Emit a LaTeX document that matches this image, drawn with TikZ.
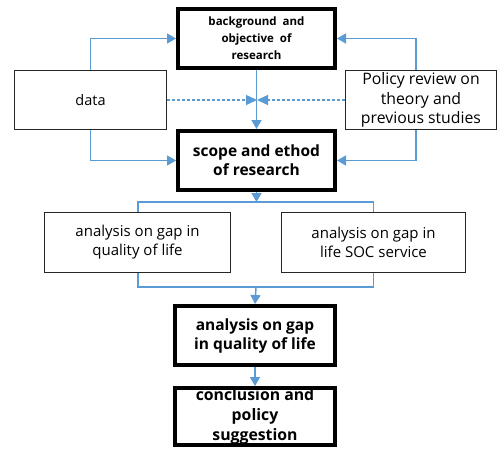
\documentclass[tikz,border=0pt]{standalone}
\usepackage{fontspec}
\setmainfont{Open Sans}
\usetikzlibrary{arrows.meta}
\definecolor{lineblue}{HTML}{5B9BD5}
\tikzset{
  thinbox/.style={draw=black!85, line width=1.5pt, fill=white, align=center, inner sep=0pt},
  thickbox/.style={draw=black, line width=4pt, fill=white, align=center, inner sep=0pt},
  conn/.style={draw=lineblue, line width=1.5pt},
  arr/.style={conn, -{Triangle[length=9pt,width=10pt]}},
  darr/.style={conn, dashed, dash pattern=on 3pt off 2pt, -{Triangle[length=11pt,width=10pt]}}
}
\begin{document}
\begin{tikzpicture}[x=1pt,y=-1pt]
\useasboundingbox (0,0) rectangle (498,448);
\node[thickbox, minimum width=157pt, minimum height=59pt,
  font=\fontsize{11.5}{17}\selectfont\bfseries] (bg) at (256.5,38.5)
  {background\ \ and\\objective\ \ of\\research};
\node[thinbox, minimum width=152pt, minimum height=59pt,
  font=\fontsize{14.5}{19}\selectfont] (data) at (90.5,100)
  {data};
\node[thinbox, minimum width=151pt, minimum height=59pt,
  font=\fontsize{15.8}{19.5}\selectfont] (pol) at (421,100)
  {Policy review on\\theory and\\previous studies};
\node[thickbox, minimum width=157pt, minimum height=59pt,
  font=\fontsize{15.5}{19}\selectfont\bfseries] (scope) at (256.5,160.5)
  {scope and ethod\\of research};
\node[thinbox, minimum width=186pt, minimum height=60pt,
  font=\fontsize{15}{19}\selectfont] (a1) at (137.5,242.5)
  {analysis on gap in\\quality of life};
\node[thinbox, minimum width=184pt, minimum height=60pt,
  font=\fontsize{15}{19}\selectfont] (a2) at (373.5,242.5)
  {analysis on gap in\\life SOC service};
\node[thickbox, minimum width=160pt, minimum height=59pt,
  font=\fontsize{15.5}{19}\selectfont\bfseries] (gap) at (255,335.5)
  {analysis on gap\\in quality of life};
\node[thickbox, minimum width=160pt, minimum height=57pt,
  font=\fontsize{15.8}{20}\selectfont\bfseries] (conc) at (255,416.5)
  {conclusion and\\policy\\suggestion};
\coordinate (mid) at (257,100);
\coordinate (j1) at (256.5,202);
\coordinate (j2) at (256,287);
% feedback arrows
\draw[arr] (data.north) |- (bg.west);
\draw[arr] (data.south) |- (scope.west);
\draw[arr] ([xshift=-5pt]pol.north) |- (bg.east);
\draw[arr] ([xshift=-5pt]pol.south) |- (scope.east);
\draw[arr] (bg.south) -- (scope.north);
\draw[darr] (data.east) -- (mid);
\draw[darr] (pol.west) -- (mid);
% branch
\draw[conn] ([xshift=0.5pt]a1.north) |- (j1) -| (a2.north);
\draw[arr] (scope.south) -- (j1);
\draw[conn] ([xshift=0.5pt]a1.south) |- (j2) -| (a2.south);
\draw[arr] (j2) -- (gap.north);
\draw[arr] (gap.south) -- (conc.north);
\end{tikzpicture}
\end{document}
